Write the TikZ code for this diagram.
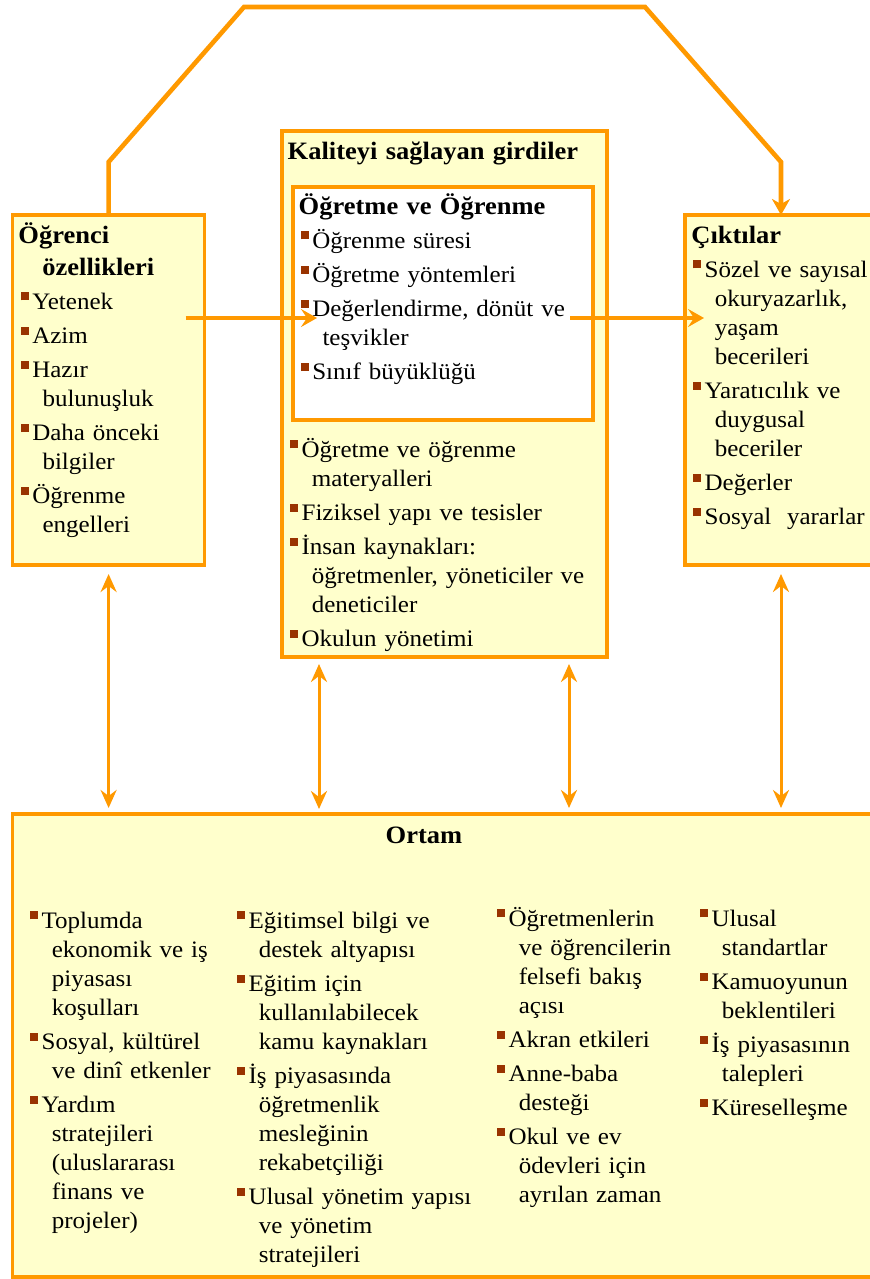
\documentclass[tikz,border=0pt]{standalone}
\usepackage{fontspec}
\setmainfont{Liberation Serif}[FakeStretch=1.06]
\usetikzlibrary{calc,arrows.meta,positioning,fit}
\definecolor{orng}{HTML}{FF9900}
\definecolor{cream}{HTML}{FFFFCC}
\definecolor{bulred}{HTML}{993300}
\newcommand{\bul}{{\color{bulred}\rule[4.3pt]{4pt}{4pt}}\hspace{1.6pt}}
\newcommand{\ind}{\hspace*{10.7pt}}
\newcommand{\nx}{\\[2.6pt]}

\begin{document}
\begin{tikzpicture} [x=0.5pt,y=-0.5pt,{box/.style={rectangle,draw=orng,fill=cream,line width=1.6pt,inner sep=0pt,outer sep=0pt}},{wbox/.style={box,fill=white}},{head/.style={anchor=base west,inner sep=0pt,align=left,text width=200pt,font=\fontsize{12.5}{16}\selectfont\bfseries}},{ttl/.style={anchor=base,inner sep=0pt,font=\fontsize{12.5}{16}\selectfont\bfseries}},{list/.style={anchor=base west,inner sep=0pt,align=left,text width=200pt,font=\fontsize{11.8}{14.5}\selectfont}},{topln/.style={orng,line width=2.3pt,-{Stealth[length=8pt,width=9pt,inset=2.5pt]}}},{harr/.style={orng,line width=2pt,-{Stealth[length=8pt,width=9pt,inset=3pt]}}},{varr/.style={orng,line width=1.5pt,{Stealth[length=9pt,width=8pt,inset=3pt]}-{Stealth[length=9pt,width=8pt,inset=3pt]}}}]
	\useasboundingbox (0,0) rectangle (869,1279);
	%%boxes
	\node[box,fit={(12.7,215) (204.5,565)}] (ogr) {};
	\node[box,fit={(282,131) (607,657)}] (kal) {};
	\node[wbox,fit={(293,187) (593,420)}] (ogrt) {};
	\node[box,fit={(685,215) (877,565)}] (cik) {};
	\node[box,fit={(12.7,814) (877,1277)}] (ort) {};
	%%student box
	\node[head] (ogrh) at ($(ogr.north west)+(5.3,28)$) {Öğrenci\\\hspace*{12pt}özellikleri};
	\node[list] (ogrl) at ($(ogr.north west)+(8,94)$) {\bul Yetenek\nx\bul Azim\nx\bul Hazır\\\ind bulunuşluk\nx\bul Daha önceki\\\ind bilgiler\nx\bul Öğrenme\\\ind engelleri};
	%%inputs box
	\node[head] (kalh) at ($(kal.north west)+(5.3,28)$) {Kaliteyi sağlayan girdiler};
	\node[head] (ogrth) at ($(ogrt.north west)+(5.3,27)$) {Öğretme ve Öğrenme};
	\node[list] (ogrtl) at ($(ogrt.north west)+(7.7,61)$) {\bul Öğrenme süresi\nx\bul Öğretme yöntemleri\nx\bul Değerlendirme, dönüt ve\\\ind teşvikler\nx\bul Sınıf büyüklüğü};
	\node[list] (kall) at ($(kal.north west)+(8,326)$) {\bul Öğretme ve öğrenme\\\ind materyalleri\nx\bul Fiziksel yapı ve tesisler\nx\bul İnsan kaynakları:\\\ind öğretmenler, yöneticiler ve\\\ind deneticiler\nx\bul Okulun yönetimi};
	%%outputs box
	\node[head] (cikh) at ($(cik.north west)+(6,28)$) {Çıktılar};
	\node[list] (cikl) at ($(cik.north west)+(8,62)$) {\bul Sözel ve sayısal\\\ind okuryazarlık,\\\ind yaşam\\\ind becerileri\nx\bul Yaratıcılık ve\\\ind duygusal\\\ind beceriler\nx\bul Değerler\nx\bul Sosyal\ \ yararlar};
	%%environment box
	\node[ttl] (orth) at ($(ort.north west)+(411.3,29)$) {Ortam};
	\node[list] (c1) at ($(ort.north west)+(17.3,114)$) {\bul Toplumda\\\ind ekonomik ve iş\\\ind piyasası\\\ind koşulları\nx\bul Sosyal, kültürel\\\ind ve dinî etkenler\nx\bul Yardım\\\ind stratejileri\\\ind (uluslararası\\\ind finans ve\\\ind projeler)};
	\node[list] (c2) at ($(ort.north west)+(224.3,114)$) {\bul Eğitimsel bilgi ve\\\ind destek altyapısı\nx\bul Eğitim için\\\ind kullanılabilecek\\\ind kamu kaynakları\nx\bul İş piyasasında\\\ind öğretmenlik\\\ind mesleğinin\\\ind rekabetçiliği\nx\bul Ulusal yönetim yapısı\\\ind ve yönetim\\\ind stratejileri};
	\node[list] (c3) at ($(ort.north west)+(484.3,112)$) {\bul Öğretmenlerin\\\ind ve öğrencilerin\\\ind felsefi bakış\\\ind açısı\nx\bul Akran etkileri\nx\bul Anne-baba\\\ind desteği\nx\bul Okul ve ev\\\ind ödevleri için\\\ind ayrılan zaman};
	\node[list] (c4) at ($(ort.north west)+(687.3,112)$) {\bul Ulusal\\\ind standartlar\nx\bul Kamuoyunun\\\ind beklentileri\nx\bul İş piyasasının\\\ind talepleri\nx\bul Küreselleşme};
	%%feedback line over the top
	\draw[topln] (ogr.north) -- ++(0,-53) -- (244,7) -- (645,7) -- ($(cik.north)+(0,-53)$) -- (cik.north);
	%%horizontal arrows
	\coordinate (h1s) at ($(ogr.north east)+(-19,103)$);
	\coordinate (h1e) at ($(ogrt.north west)+(24,131)$);
	\coordinate (h2s) at ($(ogrt.north east)+(-23,131)$);
	\coordinate (h2e) at ($(cik.north west)+(19,103)$);
	\draw[harr] (h1s) -- (h1e);
	\draw[harr] (h2s) -- (h2e);
	%%links to environment
	\draw[varr] ($(ogr.south)+(0,9)$) -- ($(ogr.south |- ort.north)+(0,-6)$);
	\draw[varr] ($(kal.south)+(-125.5,7)$) -- ($(kal.south |- ort.north)+(-125.5,-5)$);
	\draw[varr] ($(kal.south)+(124.5,7)$) -- ($(kal.south |- ort.north)+(124.5,-6)$);
	\draw[varr] ($(cik.south)+(0,9)$) -- ($(cik.south |- ort.north)+(0,-6)$);
\end{tikzpicture}
\end{document}
